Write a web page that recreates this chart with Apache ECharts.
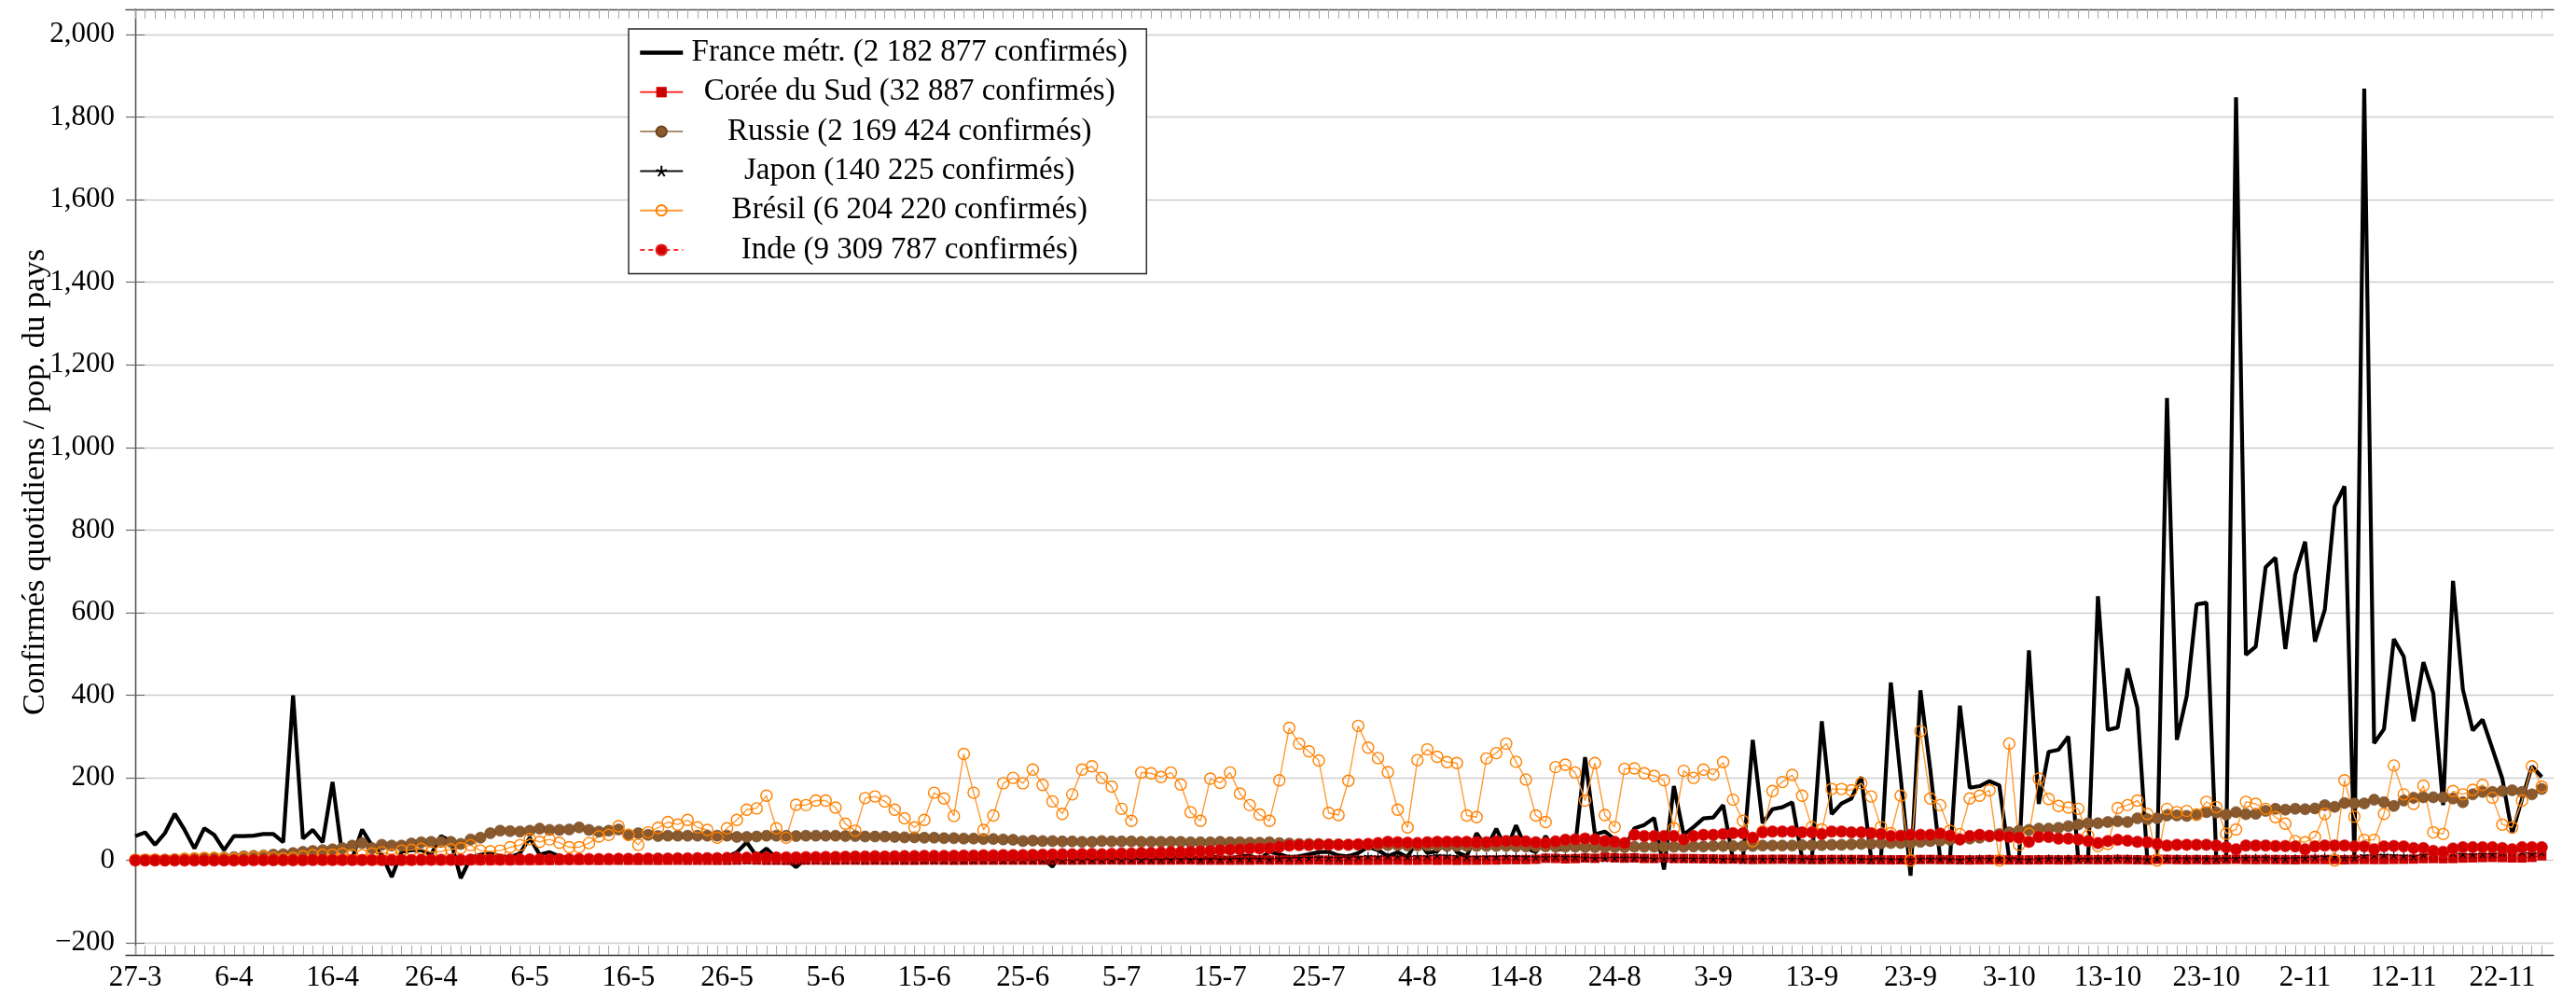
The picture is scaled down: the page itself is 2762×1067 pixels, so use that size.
<!DOCTYPE html>
<html lang="fr">
<head>
<meta charset="utf-8">
<title>Confirmés quotidiens / pop. du pays</title>
<script src="https://cdn.jsdelivr.net/npm/echarts@6/dist/echarts.min.js"></script>
<style>
  html, body { margin: 0; padding: 0; background: #fff; }
  #chart { width: 2762px; height: 1067px; }
</style>
</head>
<body>
<div id="chart"></div>
<script>
// day 0 = 27-3, one value per day up to 26-11
const tickDays = [0, 10, 20, 30, 40, 50, 60, 70, 80, 90, 100, 110, 120, 130, 140, 150, 160, 170, 180, 190, 200, 210, 220, 230, 240];
const tickLabels = ["27-3", "6-4", "16-4", "26-4", "6-5", "16-5", "26-5", "5-6", "15-6", "25-6", "5-7", "15-7", "25-7",
  "4-8", "14-8", "24-8", "3-9", "13-9", "23-9", "3-10", "13-10", "23-10", "2-11", "12-11", "22-11"];
const yTicks = [-200, 0, 200, 400, 600, 800, 1000, 1200, 1400, 1600, 1800, 2000];

const seriesNames = [
  "France métr. (2 182 877 confirmés)",
  "Corée du Sud (32 887 confirmés)",
  "Russie (2 169 424 confirmés)",
  "Japon (140 225 confirmés)",
  "Brésil (6 204 220 confirmés)",
  "Inde (9 309 787 confirmés)",
];

const france = [
  59, 68, 38, 66, 113, 74, 29, 78, 62, 25,
  59, 59, 60, 64, 64, 44, 400, 53, 74, 44,
  190, 10, 5, 75, 36, 14, -40, 21, 25, 25,
  14, 59, 47, -43, 6, 14, 17, 10, 8, 17,
  55, 14, 20, 10, 6, 2, 2, 2, 4, 3,
  5, 3, 4, 6, 5, 4, 3, 5, 6, 4,
  8, 20, 44, 10, 29, 5, 3, -16, 5, 6,
  5, 4, 6, 7, 5, 3, 6, 8, 4, 5,
  6, 5, 7, 6, 4, 8, 6, 5, 7, 6,
  5, 8, 6, -15, 25, 5, 6, 8, 7, 6,
  8, 10, 7, 9, 6, 10, 12, 8, 5, 9,
  8, 5, 10, 12, 3, 21, 15, 8, 10, 15,
  20, 21, 12, 10, 18, 33, 25, 10, 20, 8,
  50, 18, 22, 56, 20, 10, 66, 30, 77, 25,
  85, 30, 20, 59, 25, 30, 35, 250, 63, 70,
  51, 30, 78, 86, 103, -22, 180, 62, 81, 102,
  104, 134, 3, 2, 292, 90, 124, 129, 141, 6,
  4, 337, 112, 138, 150, 202, 5, 4, 431, 200,
  -37, 412, 220, 5, 5, 375, 176, 180, 192, 182,
  5, 3, 509, 137, 263, 268, 300, 3, 2, 640,
  316, 322, 465, 369, 3, 2, 1120, 292, 398, 620,
  624, 3, 2, 1848, 498, 518, 710, 733, 512, 692,
  772, 530, 607, 857, 906, 5, 1869, 284, 318, 536,
  494, 337, 480, 405, 134, 677, 414, 315, 341, 270,
  198, 66, 149, 228, 202,
];

const korea = [
  1.8, 2.1, 2.0, 1.7, 2.0, 1.7, 1.6, 1.5, 1.0, 1.0,
  0.9, 0.9, 0.6, 0.9, 0.6, 0.6, 0.5, 0.5, 0.5, 0.3,
  0.4, 0.2, 0.2, 0.2, 0.3, 0.3, 0.2, 0.2, 0.1, 0.2,
  0.2, 0.2, 0.3, 0.2, 0.3, 0.2, 0.1, 0.2, 0.1, 0.1,
  0.1, 0.1, 0.1, 0.4, 0.7, 0.5, 0.6, 0.3, 0.6, 0.6,
  0.5, 0.3, 0.4, 0.3, 0.5, 0.6, 0.4, 0.5, 0.4, 0.3,
  0.3, 0.8, 1.5, 1.0, 0.5, 0.5, 0.3, 0.8, 0.8, 1.0,
  0.7, 0.7, 1.0, 0.9, 0.6, 0.8, 0.7, 0.7, 0.6, 0.5,
  0.9, 1.0, 0.9, 0.5, 0.7, 0.9, 0.9, 0.8, 1.0, 0.9,
  0.9, 0.8, 0.8, 1.0, 1.0, 0.8, 1.0, 1.2, 1.2, 1.2,
  0.9, 0.9, 1.0, 1.0, 0.9, 1.0, 1.2, 1.2, 0.8, 0.8,
  0.7, 0.7, 0.8, 0.8, 1.2, 0.9, 1.1, 0.8, 0.9, 1.1,
  1.2, 0.8, 0.8, 0.6, 0.6, 0.6, 0.7, 0.9, 1.0, 0.6,
  0.6, 1.0, 0.5, 0.8, 0.4, 0.7, 0.7, 1.0, 1.1, 1.9,
  1.9, 2.1, 2.8, 5.3, 5.0, 3.8, 4.5, 5.9, 5.2, 7.9,
  6.3, 5.6, 6.1, 4.8, 4.8, 6.2, 4.7, 4.6, 4.4, 4.0,
  3.6, 3.2, 3.4, 2.9, 2.3, 2.6, 2.8, 3.0, 2.6, 2.4,
  2.1, 2.0, 2.3, 2.2, 2.1, 2.4, 1.7, 1.6, 1.4, 1.6,
  1.2, 2.2, 2.3, 2.0, 1.9, 1.5, 1.2, 1.5, 1.9, 1.9,
  1.4, 1.4, 1.4, 1.5, 1.7, 1.4, 1.4, 2.1, 2.0, 1.8,
  1.8, 2.3, 2.1, 1.6, 1.2, 2.6, 2.5, 2.0, 1.7, 2.1,
  1.5, 1.8, 2.4, 2.9, 2.2, 2.0, 2.3, 2.1, 1.9, 1.6,
  2.4, 2.4, 2.3, 2.4, 1.7, 2.3, 2.4, 2.2, 2.2, 2.7,
  3.0, 3.4, 4.4, 4.7, 4.3, 4.7, 5.8, 6.3, 7.0, 7.4,
  6.9, 6.2, 6.0, 7.4, 11.3,
];

const russia = [
  1, 1, 2, 2, 3, 4, 4, 5, 6, 7,
  8, 10, 11, 12, 14, 15, 18, 21, 23, 25,
  27, 30, 36, 42, 30, 38, 36, 36, 41, 44,
  45, 45, 45, 40, 51, 55, 66, 72, 71, 70,
  72, 77, 74, 74, 75, 80, 74, 70, 72, 75,
  62, 66, 62, 59, 60, 60, 60, 60, 60, 60,
  60, 57, 57, 58, 60, 60, 60, 59, 60, 60,
  60, 60, 59, 59, 58, 58, 58, 57, 56, 56,
  55, 55, 54, 54, 53, 53, 52, 52, 51, 50,
  47, 48, 47, 47, 46, 46, 45, 45, 47, 46,
  46, 46, 45, 45, 45, 45, 45, 44, 44, 44,
  45, 44, 44, 43, 43, 44, 42, 41, 40, 40,
  40, 39, 39, 38, 38, 38, 37, 37, 37, 36,
  36, 36, 35, 35, 35, 35, 35, 35, 35, 35,
  34, 34, 34, 34, 33, 33, 33, 32, 32, 32,
  32, 32, 33, 33, 33, 33, 33, 33, 34, 34,
  35, 35, 35, 35, 35, 36, 36, 36, 36, 37,
  37, 37, 38, 38, 39, 40, 40, 41, 42, 42,
  42, 45, 47, 48, 50, 51, 53, 55, 58, 64,
  68, 72, 74, 77, 77, 79, 83, 87, 90, 90,
  93, 95, 93, 102, 100, 102, 109, 109, 108, 110,
  117, 116, 111, 117, 112, 113, 120, 125, 123, 125,
  124, 126, 134, 130, 139, 138, 138, 147, 141, 132,
  145, 152, 153, 153, 153, 150, 141, 160, 166, 166,
  168, 170, 166, 160, 173,
];

const japan = [
  0.9, 0.6, 0.5, 1.4, 0.6, 1.7, 1.9, 2.0, 2.9, 1.5,
  2.0, 2.4, 3.9, 4.5, 4.5, 5.7, 4.0, 3.0, 3.9, 4.6,
  4.6, 4.4, 3.7, 3.1, 3.4, 3.0, 2.4, 2.8, 1.7, 2.3,
  2.2, 1.5, 1.0, 2.1, 1.5, 1.3, 1.6, 1.6, 1.7, 1.4,
  1.6, 0.9, 0.7, 1.0, 0.6, 0.4, 0.7, 0.5, 0.2, 0.5,
  0.3, 0.5, 0.6, 0.4, 0.3, 0.3, 0.1, 0.4, 0.2, 0.2,
  0.2, 0.2, 0.3, 0.3, 0.2, 0.4, 0.4, 0.3, 0.4, 0.3,
  0.2, 0.4, 0.4, 0.3, 0.3, 0.4, 0.4, 0.3, 0.4, 0.3,
  0.3, 0.4, 0.4, 0.4, 0.3, 0.4, 0.5, 0.5, 0.4, 0.5,
  0.5, 0.6, 0.7, 0.8, 0.7, 0.7, 0.9, 1.0, 1.2, 1.6,
  1.6, 2.2, 2.4, 1.5, 2.0, 3.0, 3.1, 3.0, 2.4, 3.1,
  2.6, 3.8, 3.5, 3.6, 4.0, 3.0, 4.7, 5.6, 6.3, 6.3,
  7.4, 6.1, 6.0, 7.1, 8.0, 10.4, 9.5, 10.3, 9.9, 9.1,
  10.5, 10.1, 12.7, 12.1, 10.7, 8.1, 9.0, 9.6, 9.3, 10.1,
  9.2, 8.4, 7.7, 7.6, 9.4, 8.5, 8.1, 6.6, 5.6, 5.6,
  6.4, 6.6, 6.5, 5.8, 4.5, 4.0, 4.6, 4.8, 4.5, 4.4,
  4.2, 3.5, 3.4, 2.1, 4.0, 3.9, 3.9, 3.5, 3.9, 3.1,
  2.6, 3.5, 4.0, 4.4, 4.5, 3.0, 2.5, 3.9, 3.4, 2.4,
  2.7, 3.7, 3.6, 4.0, 2.9, 2.1, 4.3, 4.8, 4.6, 4.7,
  4.5, 3.2, 2.1, 3.9, 4.9, 4.6, 4.9, 3.0, 3.5, 4.8,
  4.4, 5.6, 5.1, 3.8, 2.4, 4.6, 4.4, 4.8, 4.8, 4.6,
  4.5, 3.8, 4.7, 5.6, 6.3, 6.7, 6.5, 4.5, 4.7, 5.6,
  6.4, 7.9, 9.6, 8.6, 6.3, 6.5, 12.1, 13.4, 13.7, 13.0,
  11.3, 9.9, 13.9, 17.0, 19.1, 18.5, 15.5, 14.6, 15.5, 15.7,
  19.3, 20.5, 20.4, 16.4, 20.0,
];

const brazil = [
  2, 2, 2, 1, 2, 4, 5, 6, 6, 5,
  4, 6, 8, 9, 7, 5, 6, 10, 13, 14,
  14, 17, 13, 13, 17, 20, 14, 24, 26, 28,
  20, 22, 27, 30, 37, 24, 22, 24, 32, 37,
  52, 45, 51, 43, 32, 32, 42, 58, 62, 83,
  62, 38, 68, 79, 93, 87, 98, 80, 74, 55,
  78, 98, 123, 126, 157, 78, 55, 135, 134, 145,
  145, 128, 89, 72, 151, 155, 143, 123, 102, 80,
  98, 164, 150, 108, 258, 164, 74, 109, 187, 200,
  187, 220, 183, 143, 113, 160, 220, 228, 200, 179,
  125, 96, 213, 211, 202, 213, 184, 117, 96, 198,
  188, 213, 162, 134, 111, 96, 194, 321, 283, 264,
  242, 115, 110, 193, 326, 273, 248, 214, 123, 80,
  243, 269, 251, 238, 236, 109, 105, 247, 260, 283,
  239, 196, 109, 93, 226, 232, 213, 145, 236, 110,
  81, 222, 223, 211, 205, 194, 78, 217, 200, 220,
  208, 238, 147, 96, 47, 70, 168, 190, 207, 157,
  81, 75, 173, 173, 170, 187, 155, 81, 66, 157,
  0, 313, 150, 134, 72, 64, 150, 157, 170, 0,
  283, 38, 65, 198, 149, 132, 128, 125, 60, 35,
  40, 127, 134, 145, 113, 0, 125, 117, 120, 111,
  142, 129, 65, 75, 142, 137, 125, 105, 89, 47,
  44, 57, 113, 0, 194, 106, 50, 50, 113, 230,
  160, 137, 181, 68, 64, 168, 160, 171, 183, 152,
  87, 80, 145, 228, 179,
];

const india = [
  0, 0, 0, 0, 0, 0, 0, 0, 0, 0,
  0, 0, 0.5, 0.5, 0.5, 0.5, 0.5, 0.5, 1, 1,
  1, 1, 1, 1, 1, 1, 1, 1, 1, 1.5,
  1.5, 1.5, 1.5, 1.5, 2, 2, 2, 2, 2, 2.5,
  2.5, 3, 3, 3, 3, 3.5, 3.5, 3.5, 3.5, 4,
  4, 4, 4.5, 4.5, 4.5, 5, 5, 5.5, 5.5, 5.5,
  6, 6.5, 6.5, 7, 7, 7, 7.5, 7.5, 8, 8,
  8.5, 8.5, 9, 9.5, 9.5, 10, 9.5, 10, 10.5, 10.5,
  11, 11, 11, 11.5, 12, 12, 12.5, 12.5, 13, 13,
  13, 13.5, 14, 14.5, 15, 15, 15.5, 16, 15, 16,
  17, 17, 18, 18, 19, 20, 20, 21, 22, 23,
  25, 26, 27, 29, 29, 30, 33, 36, 37, 37,
  38, 38, 38, 38, 39, 40, 42, 45, 44, 43,
  42, 44, 45, 45, 45, 45, 44, 44, 46, 47,
  47, 46, 44, 42, 46, 50, 51, 53, 51, 47,
  45, 42, 62, 59, 59, 59, 59, 51, 59, 62,
  62, 64, 66, 66, 55, 68, 70, 70, 70, 68,
  68, 64, 70, 70, 68, 68, 66, 64, 59, 60,
  62, 62, 62, 65, 60, 51, 59, 62, 60, 60,
  57, 55, 45, 57, 57, 53, 53, 51, 47, 42,
  47, 50, 48, 45, 44, 40, 36, 38, 38, 38,
  38, 36, 32, 27, 36, 36, 36, 35, 35, 34,
  27, 34, 36, 36, 36, 34, 34, 27, 34, 35,
  34, 30, 30, 23, 21, 29, 32, 32, 32, 32,
  30, 27, 32, 32, 32,
];

const serif = "'Liberation Serif', 'DejaVu Serif', serif";
const allDays = france.map((v, i) => i);

function pairs(values) {
  return values.map((v, i) => [i, v]);
}

function formatY(value) {
  const s = Math.abs(value).toLocaleString("en-US");
  return value < 0 ? "\u2212" + s : s;
}

const starPath = "path://M0,0L0,-10M0,0L9.51,-3.09M0,0L5.88,8.09M0,0L-5.88,8.09M0,0L-9.51,-3.09";

const chart = echarts.init(document.getElementById("chart"));

const xCommon = {
  type: "value",
  min: -0.95,
  max: 245.2,
  splitLine: { show: false },
  axisLine: { show: true, onZero: false, lineStyle: { color: "#333", width: 1.3 } },
  axisTick: {
    show: true,
    inside: true,
    length: 10,
    customValues: allDays,
    lineStyle: { color: "#a8a8a8", width: 1 },
  },
};

const yCommon = {
  type: "value",
  min: -228.7,
  max: 2061,
  axisLine: { show: true, lineStyle: { color: "#555", width: 1.3 } },
  axisTick: {
    show: true,
    inside: true,
    length: 10,
    customValues: yTicks,
    lineStyle: { color: "#666", width: 1 },
  },
};

const legendData = seriesNames.map((name, i) =>
  i === 0
    ? { name: name, itemStyle: { opacity: 0 }, lineStyle: { width: 4.5, color: "#000" } }
    : { name: name }
);

chart.setOption({
  animation: false,
  backgroundColor: "#fff",
  textStyle: { fontFamily: serif },
  grid: { left: 135, right: 24, top: 10, bottom: 43, containLabel: false },
  legend: {
    orient: "vertical",
    left: 674,
    top: 31,
    data: legendData,
    selectedMode: false,
    backgroundColor: "#fff",
    borderColor: "#222",
    borderWidth: 1.4,
    borderRadius: 0,
    padding: [9, 16, 9, 10],
    itemWidth: 46,
    itemHeight: 14,
    itemGap: 9.3,
    formatter: (name) => "{a|" + name + "}",
    textStyle: {
      color: "#000",
      fontFamily: serif,
      fontSize: 33,
      rich: {
        a: { width: 476, align: "center", fontFamily: serif, fontSize: 33, lineHeight: 30, color: "#000" },
      },
    },
  },
  xAxis: [
    Object.assign({}, xCommon, {
      position: "bottom",
      axisLabel: {
        show: true,
        customValues: tickDays,
        formatter: (v) => tickLabels[tickDays.indexOf(v)],
        color: "#000",
        fontFamily: serif,
        fontSize: 31,
        margin: 9,
      },
    }),
    Object.assign({}, xCommon, {
      position: "top",
      axisLine: { show: true, onZero: false, lineStyle: { color: "#555", width: 1.3 } },
      axisLabel: { show: false },
    }),
  ],
  yAxis: [
    Object.assign({}, yCommon, {
      position: "left",
      name: "Confirmés quotidiens / pop. du pays",
      nameLocation: "middle",
      nameGap: 80,
      nameMoveOverlap: false,
      nameTextStyle: { color: "#000", fontFamily: serif, fontSize: 34.5 },
      axisLabel: {
        show: true,
        customValues: yTicks,
        formatter: formatY,
        color: "#000",
        fontFamily: serif,
        fontSize: 31,
        margin: 12,
      },
      splitLine: { show: true, lineStyle: { color: "#cdcdcd", width: 1.3 } },
    }),
    Object.assign({}, yCommon, {
      position: "right",
      axisLabel: { show: false },
      splitLine: { show: false },
    }),
  ],
  series: [
    {
      name: seriesNames[0],
      type: "line",
      data: pairs(france),
      symbol: "none",
      lineStyle: { color: "#000", width: 4.2 },
      itemStyle: { color: "#000" },
    },
    {
      name: seriesNames[1],
      type: "line",
      data: pairs(korea),
      symbol: "rect",
      symbolSize: 10,
      lineStyle: { color: "#ff3030", width: 1.2 },
      itemStyle: { color: "#cc0000" },
    },
    {
      name: seriesNames[2],
      type: "line",
      data: pairs(russia),
      symbol: "circle",
      symbolSize: 12,
      lineStyle: { color: "#a88f72", width: 1.6 },
      itemStyle: { color: "#8a5a2e", borderColor: "#6e4522", borderWidth: 0.6 },
    },
    {
      name: seriesNames[3],
      type: "line",
      data: pairs(japan),
      symbol: starPath,
      symbolSize: 9,
      symbolKeepAspect: true,
      lineStyle: { color: "#111", width: 1.1 },
      itemStyle: { color: "transparent", borderColor: "#000", borderWidth: 1.1 },
    },
    {
      name: seriesNames[4],
      type: "line",
      data: pairs(brazil),
      symbol: "circle",
      symbolSize: 12,
      lineStyle: { color: "#ff9a33", width: 1.4 },
      itemStyle: { color: "transparent", borderColor: "#ff8000", borderWidth: 1.4 },
    },
    {
      name: seriesNames[5],
      type: "line",
      data: pairs(india),
      symbol: "circle",
      symbolSize: 12.5,
      lineStyle: { color: "#ff2a2a", width: 1.2, type: [5, 4] },
      itemStyle: { color: "#d40000", borderColor: "#e52020", borderWidth: 0.6 },
    },
  ],
});
</script>
</body>
</html>
